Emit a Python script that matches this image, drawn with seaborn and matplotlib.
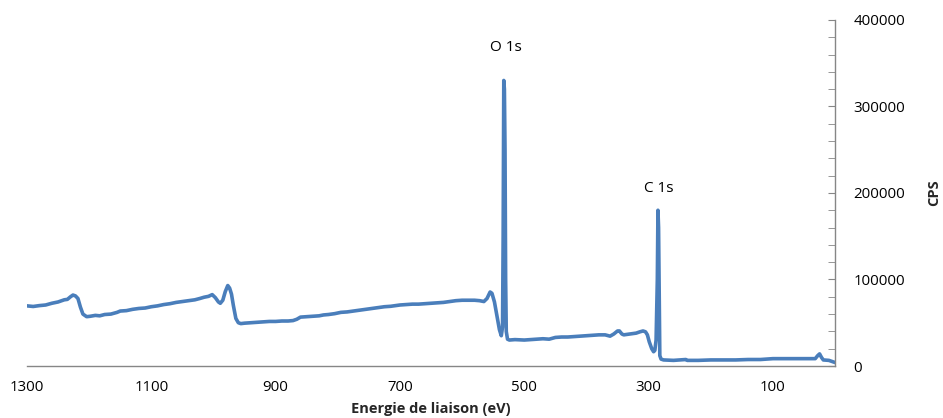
import matplotlib
matplotlib.use("Agg")
import matplotlib.pyplot as plt
import seaborn as sns
import pandas as pd
from matplotlib.ticker import MultipleLocator

# binding energy (eV), descending, and counts
energy = [1300, 1290, 1280, 1270, 1260, 1250, 1240, 1235, 1230, 1226, 1222, 1218,
          1214, 1210, 1204, 1198, 1190, 1183, 1175, 1165, 1155, 1150, 1140, 1130,
          1120, 1110, 1100, 1090, 1080, 1070, 1060, 1050, 1040, 1030, 1022, 1015,
          1008, 1002, 997, 992, 989, 985, 981, 977, 974, 971, 968, 964, 960, 956,
          950, 940, 930, 920, 910, 900, 890, 880, 872, 866, 860, 850, 840, 830,
          823, 815, 805, 795, 785, 775, 765, 755, 745, 735, 725, 715, 700, 690,
          680, 670, 660, 650, 640, 630, 620, 610, 600, 590, 580, 572, 565, 560,
          555, 552, 548, 544, 540, 537, 535, 534, 533, 532, 531, 530, 529, 527,
          524, 515, 500, 490, 480, 470, 460, 450, 440, 430, 420, 410, 400, 390,
          380, 370, 362, 356, 350, 347, 343, 340, 330, 320, 314, 309, 305, 302,
          299, 295, 292, 290, 288, 286, 285, 284, 283, 282, 280, 276, 260, 240,
          238, 220, 200, 180, 160, 140, 120, 100, 80, 60, 40, 32, 28, 25, 22, 19,
          10, 0]
cps = [69500, 68800, 69800, 70500, 72500, 74000, 76500, 77000, 80000, 82000, 81000, 78000,
       68000, 60000, 57000, 57500, 58500, 58000, 59500, 60000, 62000, 63500, 64000, 65500,
       66500, 67000, 68500, 69500, 71000, 72000, 73500, 74500, 75500, 76500, 78000, 79500,
       80500, 82500, 79000, 74000, 72500, 76000, 86000, 93000, 90000, 83000, 70000, 55000,
       50000, 49000, 49500, 50000, 50500, 51000, 51500, 51500, 52000, 52000, 52500, 54000,
       56500, 57000, 57500, 58000, 59000, 59500, 60500, 62000, 62500, 63500, 64500, 65500,
       66500, 67500, 68500, 69000, 70500, 71000, 71500, 71500, 72000, 72500, 73000, 73500,
       74500, 75500, 76000, 76000, 76000, 75500, 74500, 78000, 85500, 84000, 74000, 58000,
       42000, 35000, 45000, 150000, 330000, 320000, 250000, 100000, 40000, 31000, 30000,
       30500, 30000, 30500, 31000, 31500, 31000, 33000, 33500, 33500, 34000, 34500, 35000,
       35500, 36000, 36000, 34500, 37000, 40500, 40500, 37000, 36000, 37000, 38000, 39500,
       40500, 39500, 36000, 28000, 20000, 16500, 18000, 30000, 100000, 180000, 160000,
       90000, 12000, 8000, 7000, 6500, 7500, 6500, 6500, 7000, 7000, 7000, 7500, 7500,
       8500, 8500, 8500, 8500, 8500, 12000, 14000, 10000, 7000, 6500, 4000]

peak_names = ["O 1s", "C 1s"]
peak_x = [529, 283]
peak_y = [368000, 205000]

df = pd.DataFrame({"energy": energy, "cps": cps})

sns.set_style("white")
plt.rcParams["font.family"] = ["Open Sans", "DejaVu Sans"]

fig = plt.figure(figsize=(9.43, 4.18), dpi=100)
ax = fig.add_axes([0.0286, 0.1244, 0.857, 0.828])

sns.lineplot(data=df, x="energy", y="cps", ax=ax, color="#4a7ebb",
             linewidth=2.6, sort=False, estimator=None)

for name, px, py in zip(peak_names, peak_x, peak_y):
    ax.text(px, py, name, ha="center", va="center", fontsize=11, color="black")

ax.set_xlim(1300, 0)
ax.set_ylim(0, 400000)

ax.xaxis.set_minor_locator(MultipleLocator(100))
ax.set_xticks([1300, 1100, 900, 700, 500, 300, 100])
ax.yaxis.set_major_locator(MultipleLocator(100000))
ax.yaxis.set_minor_locator(MultipleLocator(20000))
ax.yaxis.tick_right()
ax.yaxis.set_label_position("right")

grey = "#868686"
for side in ["top", "left"]:
    ax.spines[side].set_visible(False)
for side in ["bottom", "right"]:
    ax.spines[side].set_color(grey)
    ax.spines[side].set_linewidth(1.0)

ax.tick_params(axis="both", which="both", direction="in", color=grey,
               labelsize=10.8, labelcolor="black")
ax.tick_params(axis="x", which="both", length=6, pad=10)
ax.tick_params(axis="y", which="both", length=5, pad=13, right=True, left=False)

ax.set_xlabel("Energie de liaison (eV)", fontsize=10.5, fontweight="bold", labelpad=5)
ax.set_ylabel("CPS", fontsize=10.5, fontweight="bold", labelpad=16)

fig.savefig("out.png", dpi=100)
